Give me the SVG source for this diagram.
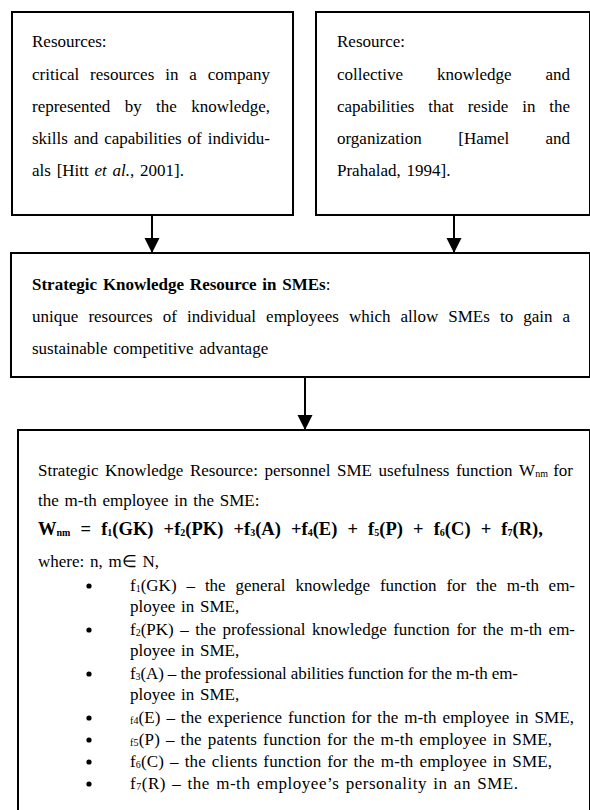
<svg xmlns="http://www.w3.org/2000/svg" width="590" height="810" viewBox="0 0 590 810">
<style>
.box{fill:#fff;stroke:#000;stroke-width:2}
text{font-family:"Liberation Serif","Times New Roman",serif;font-size:17px;fill:#000}
.b{font-weight:bold}
.s{font-size:10px}
.n{word-spacing:1.5px}
.f{font-weight:bold;font-size:18.5px;word-spacing:5.5px}
.edge{stroke:#000;stroke-width:2;fill:none}
</style>
<defs>
<marker id="ah" markerUnits="userSpaceOnUse" markerWidth="16" markerHeight="16" refX="15" refY="7.5" orient="auto">
<path d="M0,0 L15,7.5 L0,15 z" fill="#000"/>
</marker>
</defs>
<rect width="590" height="810" fill="#fff"/>

<g id="connectors">
<line class="edge" x1="152" y1="215" x2="152" y2="253" marker-end="url(#ah)"/>
<line class="edge" x1="454" y1="215" x2="454" y2="253" marker-end="url(#ah)"/>
<line class="edge" x1="305" y1="377" x2="305" y2="430" marker-end="url(#ah)"/>
</g>

<g id="resources-hitt">
<rect class="box" x="12" y="12" width="281" height="203"/>
<text x="32" y="47" class="n">Resources:</text>
<text y="80"><tspan x="32">critical</tspan><tspan x="90.1">resources</tspan><tspan x="165.2">in</tspan><tspan x="189.3">a</tspan><tspan x="207.7">company</tspan></text>
<text y="112"><tspan x="32">represented</tspan><tspan x="124.7">by</tspan><tspan x="156">the</tspan><tspan x="191.2">knowledge,</tspan></text>
<text y="144"><tspan x="32">skills</tspan><tspan x="73.8">and</tspan><tspan x="104.2">capabilities</tspan><tspan x="187.5">of</tspan><tspan x="207.7">individu-</tspan></text>
<text x="32" y="176" class="n">als [Hitt <tspan font-style="italic">et al.</tspan>, 2001].</text>
</g>

<g id="resource-hamel">
<rect class="box" x="316" y="12" width="274" height="203"/>
<text x="337" y="47" class="n">Resource:</text>
<text y="80"><tspan x="337">collective</tspan><tspan x="437">knowledge</tspan><tspan x="545.5">and</tspan></text>
<text y="112"><tspan x="337">capabilities</tspan><tspan x="428.3">that</tspan><tspan x="467.7">reside</tspan><tspan x="522.2">in</tspan><tspan x="549.2">the</tspan></text>
<text y="144"><tspan x="337">organization</tspan><tspan x="458.3">[Hamel</tspan><tspan x="545.5">and</tspan></text>
<text x="337" y="176" class="n">Prahalad, 1994].</text>
</g>

<g id="strategic-knowledge-resource">
<rect class="box" x="11" y="253" width="579" height="124"/>
<text x="32" y="290" class="n"><tspan class="b">Strategic Knowledge Resource in SMEs</tspan>:</text>
<text y="322"><tspan x="32">unique</tspan><tspan x="88.4">resources</tspan><tspan x="162.7">of</tspan><tspan x="187">individual</tspan><tspan x="266.1">employees</tspan><tspan x="348.9">which</tspan><tspan x="400.4">allow</tspan><tspan x="448.3">SMEs</tspan><tspan x="500">to</tspan><tspan x="523.3">gain</tspan><tspan x="562.5">a</tspan></text>
<text x="32" y="354" class="n">sustainable competitive advantage</text>
</g>

<g id="usefulness-function">
<rect class="box" x="18" y="430" width="572" height="392"/>
<text y="476"><tspan x="38">Strategic</tspan><tspan x="104.9">Knowledge</tspan><tspan x="189.9">Resource:</tspan><tspan x="264.4">personnel</tspan><tspan x="337">SME</tspan><tspan x="378.6">usefulness</tspan><tspan x="455.9">function</tspan><tspan x="519.1">W</tspan><tspan class="s" dy="1">nm</tspan><tspan x="553.2" dy="-1">for</tspan></text>
<text x="38" y="506" class="n">the m-th employee in the SME:</text>
<text x="38" y="535" class="f">W<tspan class="s" dy="1">nm</tspan><tspan dy="-1"> = f</tspan><tspan class="s" dy="1">1</tspan><tspan dy="-1">(GK) +f</tspan><tspan class="s" dy="1">2</tspan><tspan dy="-1">(PK) +f</tspan><tspan class="s" dy="1">3</tspan><tspan dy="-1">(A) +f</tspan><tspan class="s" dy="1">4</tspan><tspan dy="-1">(E) + f</tspan><tspan class="s" dy="1">5</tspan><tspan dy="-1">(P) + f</tspan><tspan class="s" dy="1">6</tspan><tspan dy="-1">(C) + f</tspan><tspan class="s" dy="1">7</tspan><tspan dy="-1">(R),</tspan></text>
<text x="38" y="567" class="n">where: n, m∈ N,</text>

<circle cx="89" cy="586" r="2.6"/>
<text y="591"><tspan x="130">f</tspan><tspan class="s" dy="1">1</tspan><tspan dy="-1">(GK)</tspan><tspan x="186.5">–</tspan><tspan x="204.9">the</tspan><tspan x="235.5">general</tspan><tspan x="295.4">knowledge</tspan><tspan x="379.9">function</tspan><tspan x="446.4">for</tspan><tspan x="476.1">the</tspan><tspan x="506.8">m-th</tspan><tspan x="548.6">em-</tspan></text>
<text x="130" y="612" class="n">ployee in SME,</text>

<circle cx="89" cy="630" r="2.6"/>
<text y="635"><tspan x="130">f</tspan><tspan class="s" dy="1">2</tspan><tspan dy="-1">(PK)</tspan><tspan x="180.2">–</tspan><tspan x="195.2">the</tspan><tspan x="222.5">professional</tspan><tspan x="312.1">knowledge</tspan><tspan x="393.2">function</tspan><tspan x="456.4">for</tspan><tspan x="482.7">the</tspan><tspan x="510">m-th</tspan><tspan x="548.6">em-</tspan></text>
<text x="130" y="656" class="n">ployee in SME,</text>

<circle cx="89" cy="674" r="2.6"/>
<text x="130" y="679" textLength="388" lengthAdjust="spacing">f<tspan class="s" dy="1">3</tspan><tspan dy="-1">(A) – the professional abilities function for the m-th em-</tspan></text>
<text x="130" y="700" class="n">ployee in SME,</text>

<circle cx="89" cy="718" r="2.6"/>
<text x="130" y="723" class="n" textLength="444" lengthAdjust="spacing"><tspan class="s" dy="1">f4</tspan><tspan dy="-1">(E) – the experience function for the m-th employee in SME,</tspan></text>

<circle cx="89" cy="740" r="2.6"/>
<text x="130" y="745" class="n" textLength="422" lengthAdjust="spacing"><tspan class="s" dy="1">f5</tspan><tspan dy="-1">(P) – the patents function for the m-th employee in SME,</tspan></text>

<circle cx="89" cy="762" r="2.6"/>
<text x="130" y="767" class="n" textLength="422" lengthAdjust="spacing">f<tspan class="s" dy="1">6</tspan><tspan dy="-1">(C) – the clients function for the m-th employee in SME,</tspan></text>

<circle cx="89" cy="784" r="2.6"/>
<text x="130" y="789" class="n" textLength="388" lengthAdjust="spacing">f<tspan class="s" dy="1">7</tspan><tspan dy="-1">(R) – the m-th employee’s personality in an SME.</tspan></text>
</g>
</svg>
